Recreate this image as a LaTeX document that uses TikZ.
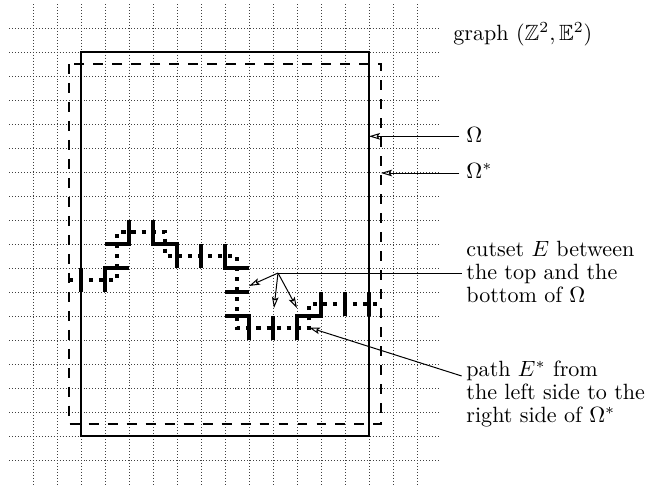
\documentclass[tikz,border=0pt]{standalone}
\usepackage{amssymb}
\usetikzlibrary{arrows.meta}
\begin{document}
\begin{tikzpicture}[x=0.453pt,y=-0.453pt,
  gridline/.style={line width=0.4pt, black!75, dash pattern=on 0.4pt off 0.95pt},
  omegabox/.style={line width=0.95pt},
  dualbox/.style={line width=1.25pt, dash pattern=on 4.5pt off 4.1pt},
  cutedge/.style={line width=1.85pt, line cap=butt, line join=miter},
  dualpath/.style={line width=1.85pt, dash pattern=on 1.85pt off 2.7pt},
  annot/.style={line width=0.45pt},
  annotarrow/.style={annot, -{Stealth[open,length=5pt,width=3pt,inset=1pt]}},
  lbl/.style={inner sep=0pt, anchor=base west, font=\fontsize{10pt}{12pt}\selectfont}
]
\useasboundingbox (0,0) rectangle (647,485);
\begin{scope}[shift={(33,28)}, x=10.872pt, y=-10.872pt]
  \foreach \i in {0,...,16} \draw[gridline] (\i,-1) -- (\i,19.05);
  \foreach \j in {0,...,18} \draw[gridline] (-1,\j) -- (17,\j);
  \draw[omegabox] (2,1) rectangle (14,17);
  \draw[dualbox] (1.5,1.5) rectangle (14.5,16.5);
  % cutset E (primal edges)
  \draw[cutedge] (2,10) -- (2,11);
  \draw[cutedge] (4,10) -- (3,10) -- (3,11);
  \draw[cutedge] (3,9) -- (4,9) -- (4,8);
  \draw[cutedge] (5,8) -- (5,9) -- (6,9) -- (6,10);
  \draw[cutedge] (7,9) -- (7,10);
  \draw[cutedge] (8,9) -- (8,10) -- (9,10);
  \draw[cutedge] (8,11) -- (9,11);
  \draw[cutedge] (8,12) -- (9,12) -- (9,13);
  \draw[cutedge] (10,12) -- (10,13);
  \draw[cutedge] (11,13) -- (11,12) -- (12,12) -- (12,11);
  \draw[cutedge] (13,11) -- (13,12);
  \draw[cutedge] (14,11) -- (14,12);
  % dual path E*
  \draw[dualpath] (1.5,10.5) -- (3.5,10.5) -- (3.5,8.5) -- (5.5,8.5) -- (5.5,9.5)
     -- (8.5,9.5) -- (8.5,12.5) -- (11.5,12.5) -- (11.5,11.5) -- (14.5,11.5);
\end{scope}
% labels
\node[lbl] (graphlbl) at (453,40.7) {graph $(\mathbb{Z}^2,\mathbb{E}^2)$};
\node[lbl] (omegalbl) at (466,142.7) {$\Omega$};
\node[lbl] (omegastarlbl) at (466,178.3) {$\Omega^*$};
\node[lbl] (cutsetA) at (466,256.7) {cutset $E$ between};
\node[lbl] (cutsetB) at (466,279.7) {the top and the};
\node[lbl] (cutsetC) at (466,302.7) {bottom of $\Omega$};
\node[lbl] (pathA) at (466,376.7) {path $E^*$ from};
\node[lbl] (pathB) at (466,399.7) {the left side to the};
\node[lbl] (pathC) at (466,422.7) {right side of $\Omega^*$};
% annotation anchors
\coordinate (omegafrom) at (459.3,136.3);
\coordinate (omegatip) at (369,136.3);
\coordinate (ostarfrom) at (459.3,173);
\coordinate (ostartip) at (381,173);
\coordinate (cutfrom) at (461.7,273);
\coordinate (cutjoin) at (278,273);
\coordinate (cuttipa) at (249,286);
\coordinate (cuttipb) at (274,308);
\coordinate (cuttipc) at (297,308);
\coordinate (pathfrom) at (461.7,376);
\coordinate (pathtip) at (309,327.5);
\draw[annotarrow] (omegafrom) -- (omegatip);
\draw[annotarrow] (ostarfrom) -- (ostartip);
\draw[annot] (cutfrom) -- (cutjoin);
\draw[annotarrow] (cutjoin) -- (cuttipa);
\draw[annotarrow] (cutjoin) -- (cuttipb);
\draw[annotarrow] (cutjoin) -- (cuttipc);
\draw[annotarrow] (pathfrom) -- (pathtip);
\end{tikzpicture}
\end{document}
